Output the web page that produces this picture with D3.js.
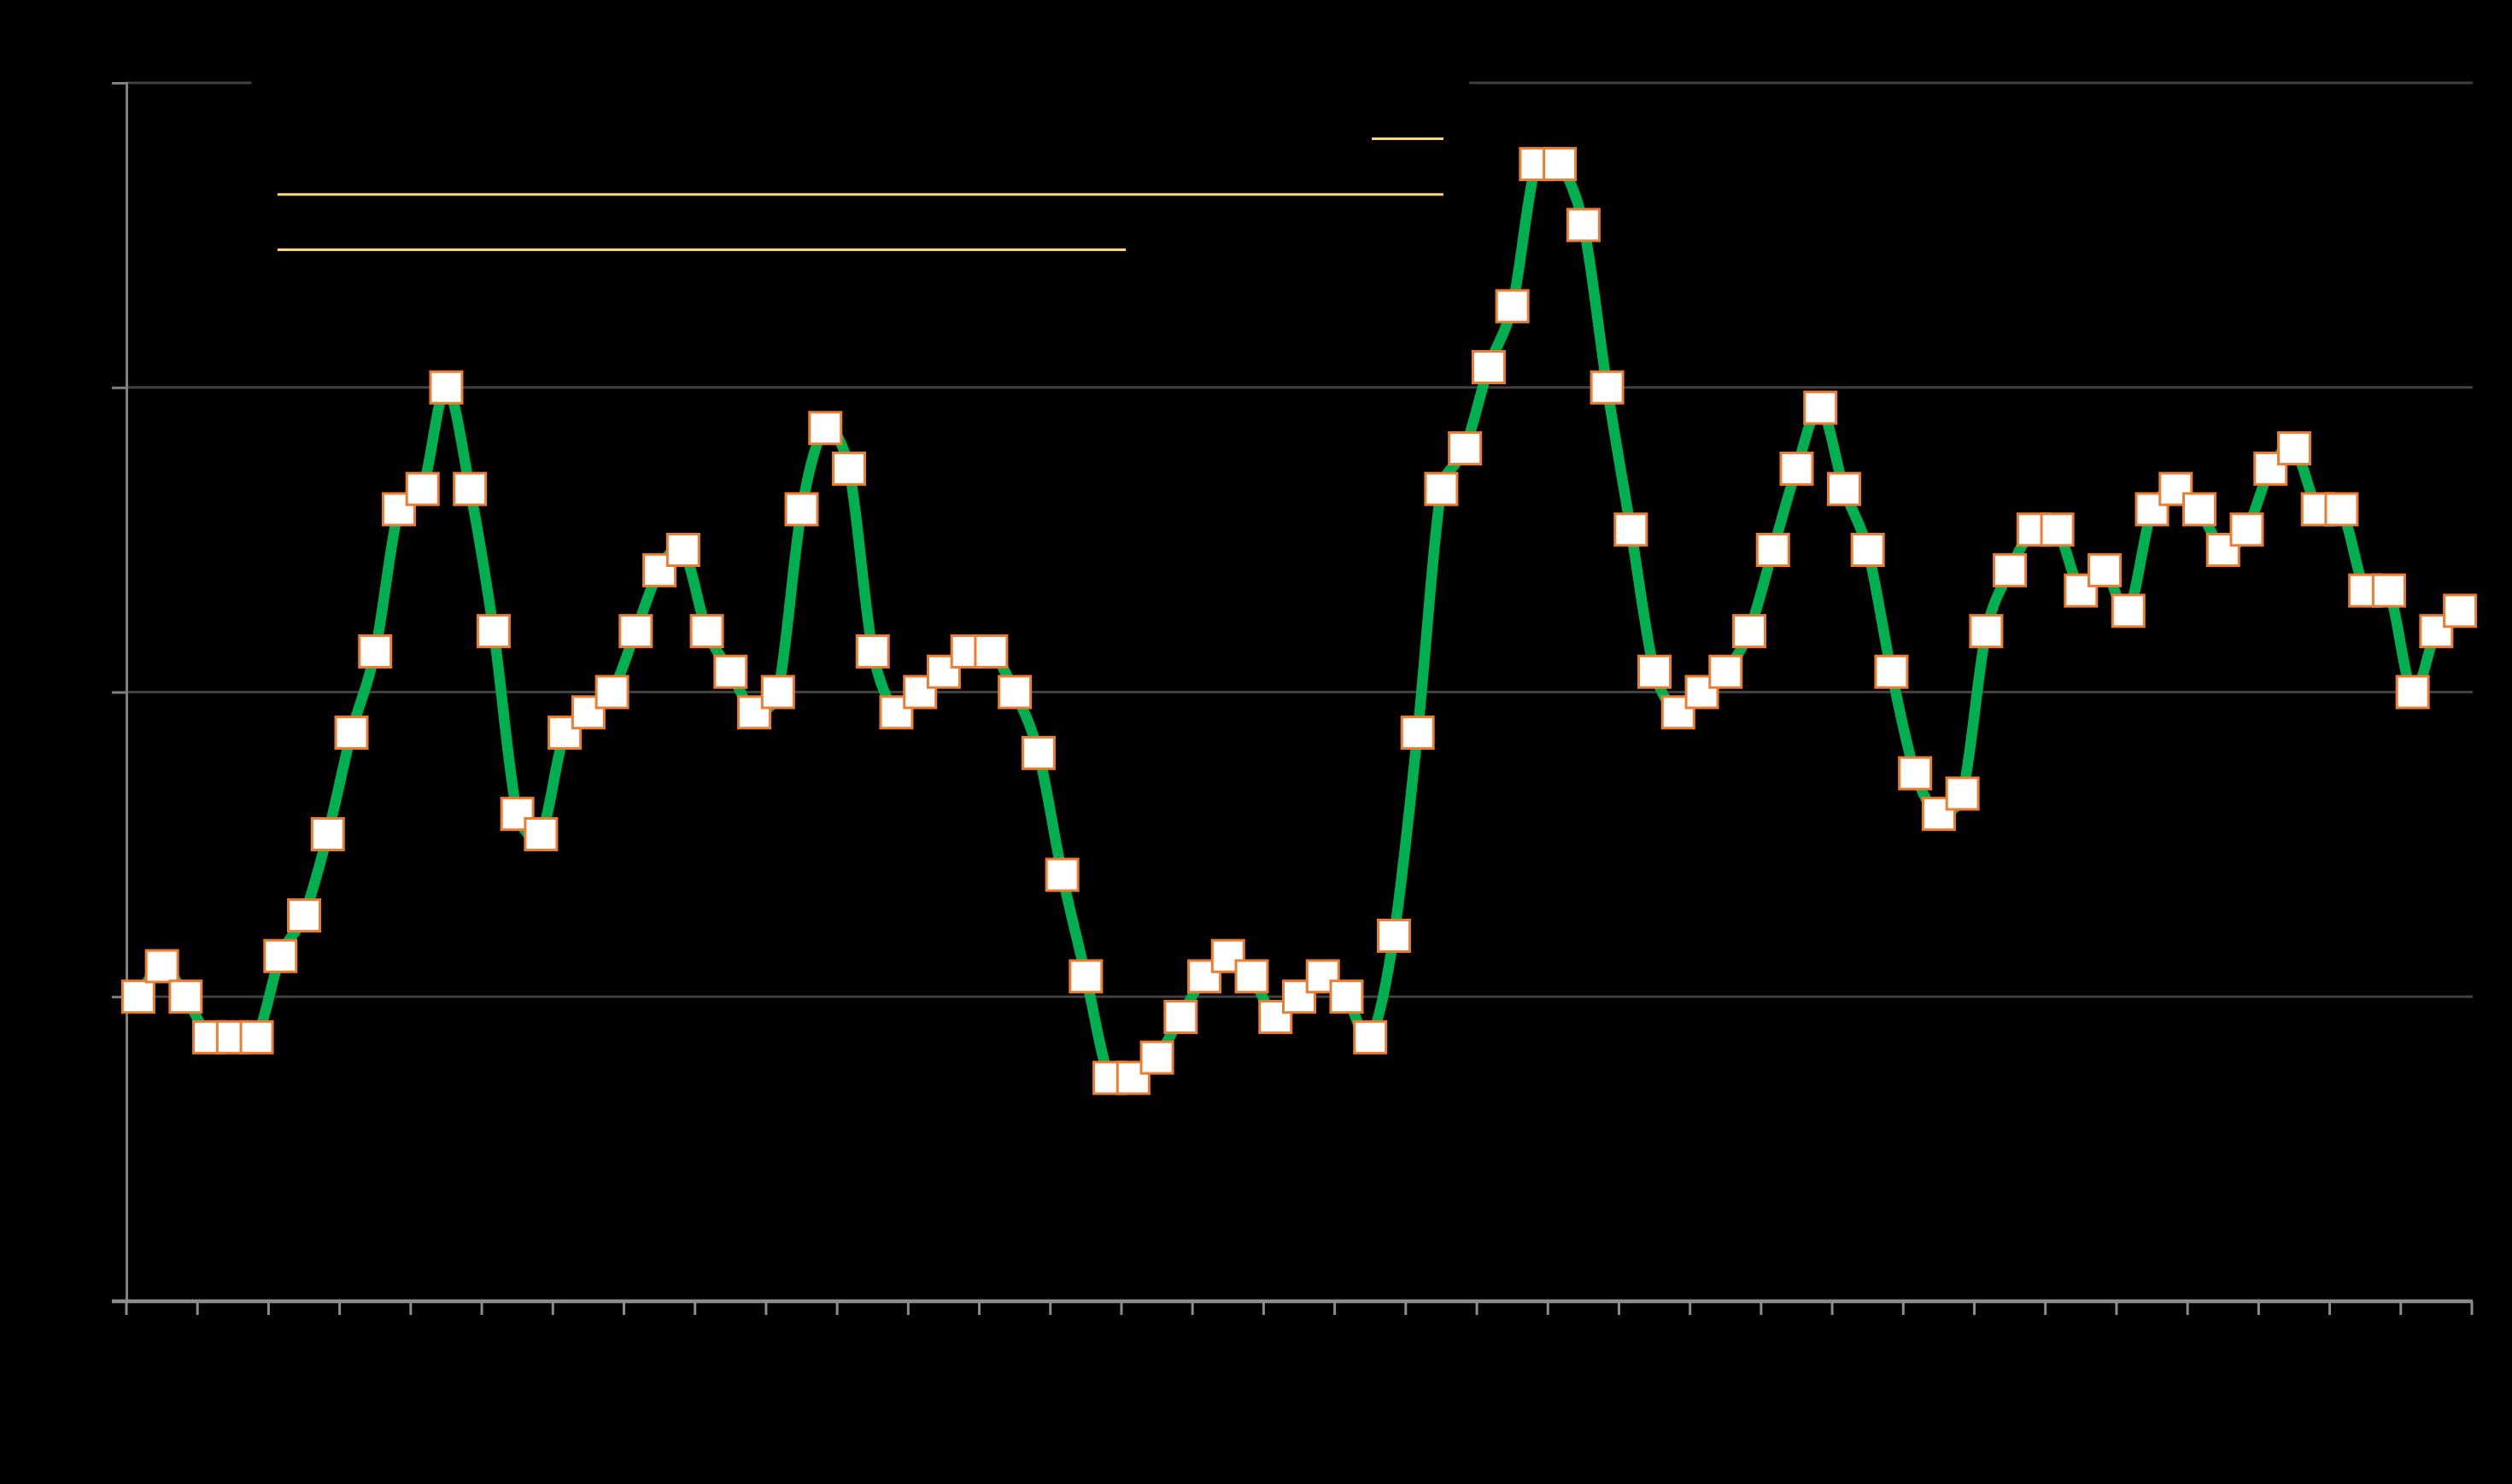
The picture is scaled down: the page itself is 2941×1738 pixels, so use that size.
<!DOCTYPE html>
<html>
<head>
<meta charset="utf-8">
<script src="https://cdn.jsdelivr.net/npm/d3@7"></script>
<style>
  html, body { margin: 0; padding: 0; background: #000; }
  svg { display: block; }
</style>
</head>
<body>
<script>
// ---- data ----
const categories = d3.range(1, 100).map(String);   // 99 periods
const values = [
  3.0, 3.3, 3.0, 2.6, 2.6, 2.6, 3.4, 3.8, 4.6, 5.6,
  6.4, 7.8, 8.0, 9.0, 8.0, 6.6, 4.8, 4.6, 5.6, 5.8,
  6.0, 6.6, 7.2, 7.4, 6.6, 6.2, 5.8, 6.0, 7.8, 8.6,
  8.2, 6.4, 5.8, 6.0, 6.2, 6.4, 6.4, 6.0, 5.4, 4.2,
  3.2, 2.2, 2.2, 2.4, 2.8, 3.2, 3.4, 3.2, 2.8, 3.0,
  3.2, 3.0, 2.6, 3.6, 5.6, 8.0, 8.4, 9.2, 9.8, 11.2,
  11.2, 10.6, 9.0, 7.6, 6.2, 5.8, 6.0, 6.2, 6.6, 7.4,
  8.2, 8.8, 8.0, 7.4, 6.2, 5.2, 4.8, 5.0, 6.6, 7.2,
  7.6, 7.6, 7.0, 7.2, 6.8, 7.8, 8.0, 7.8, 7.4, 7.6,
  8.2, 8.4, 7.8, 7.8, 7.0, 7.0, 6.0, 6.6, 6.8
];
const yTicks = [0, 3, 6, 9, 12];
const tickEvery = 3;

(function () {
// ---- layout ----
const W = 2941, H = 1738;
const pL = 148, pR = 2894, pT = 97, pB = 1524;

const svg = d3.select("body").append("svg")
  .attr("width", W).attr("height", H)
  .style("background", "#000");

const x = d3.scaleBand().domain(categories).range([pL, pR]).padding(0);
const y = d3.scaleLinear().domain([0, 12]).range([pB, pT]);
const cx = d => x(d) + x.bandwidth() / 2;

// gridlines
svg.append("g").selectAll("line")
  .data(yTicks.filter(t => t > 0))
  .join("line")
  .attr("x1", pL).attr("x2", pR + 1)
  .attr("y1", d => y(d)).attr("y2", d => y(d))
  .attr("stroke", "#404040").attr("stroke-width", 3);

// y axis
const yAxis = svg.append("g")
  .attr("transform", `translate(${pL},0)`)
  .call(d3.axisLeft(y).tickValues(yTicks).tickSize(17).tickPadding(8));
yAxis.select(".domain").attr("stroke", "#808080").attr("stroke-width", 3);
yAxis.selectAll(".tick line").attr("stroke", "#808080").attr("stroke-width", 3);
yAxis.selectAll(".tick text").attr("fill", "#000").attr("font-family", "Liberation Sans, Arial, sans-serif").attr("font-size", 32);

// x axis
const tickCats = categories.filter((c, i) => i % tickEvery === 0);
svg.append("line")
  .attr("x1", pL - 17).attr("x2", pR + 1)
  .attr("y1", y(0)).attr("y2", y(0))
  .attr("stroke", "#8c8c8c").attr("stroke-width", 4.5);
const xt = svg.append("g");
xt.selectAll("line.t")
  .data(tickCats)
  .join("line").attr("class", "t")
  .attr("x1", d => x(d)).attr("x2", d => x(d))
  .attr("y1", y(0)).attr("y2", y(0) + 16)
  .attr("stroke", "#8c8c8c").attr("stroke-width", 3);
xt.append("line")
  .attr("x1", pR).attr("x2", pR)
  .attr("y1", y(0)).attr("y2", y(0) + 16)
  .attr("stroke", "#8c8c8c").attr("stroke-width", 3);

// legend / title box (black) covering the top gridline
const boxX0 = pL + (pR - pL) * 0.0533;
const boxX1 = pL + (pR - pL) * 0.5725;
svg.append("rect")
  .attr("x", boxX0).attr("y", 60)
  .attr("width", boxX1 - boxX0).attr("height", 260)
  .attr("fill", "#000");

// underline rules in the box
const ruleX0 = pL + (pR - pL) * 0.0644;
const ruleXEnd = pL + (pR - pL) * 0.5615;
const ruleXMid = pL + (pR - pL) * 0.4261;
const ruleXShort = pL + (pR - pL) * 0.5310;
const rules = [
  { x1: ruleXShort, x2: ruleXEnd, yy: y(11.45) },
  { x1: ruleX0, x2: ruleXEnd, yy: y(10.9) },
  { x1: ruleX0, x2: ruleXMid, yy: y(10.355) }
];
svg.append("g").selectAll("line")
  .data(rules).join("line")
  .attr("x1", d => d.x1).attr("x2", d => d.x2)
  .attr("y1", d => d.yy).attr("y2", d => d.yy)
  .attr("stroke", "#FFD966").attr("stroke-width", 3);

// spreadsheet-style smoothing curve (Bezier with limited tangent length)
function smoothCurve(context) {
  let pts;
  return {
    areaStart() {}, areaEnd() {},
    lineStart() { pts = []; },
    point(px, py) { pts.push([+px, +py]); },
    lineEnd() {
      const n = pts.length;
      if (!n) return;
      context.moveTo(pts[0][0], pts[0][1]);
      const tan = pts.map((p, i) => {
        const a = pts[Math.max(0, i - 1)], b = pts[Math.min(n - 1, i + 1)];
        return [(b[0] - a[0]) / 6, (b[1] - a[1]) / 6];
      });
      for (let i = 0; i < n - 1; i++) {
        const p = pts[i], q = pts[i + 1];
        const L = Math.hypot(q[0] - p[0], q[1] - p[1]);
        const lim = t => {
          const l = Math.hypot(t[0], t[1]), m = L * 0.45;
          return l > m ? [t[0] * m / l, t[1] * m / l] : t;
        };
        const t1 = lim(tan[i]), t2 = lim(tan[i + 1]);
        context.bezierCurveTo(p[0] + t1[0], p[1] + t1[1], q[0] - t2[0], q[1] - t2[1], q[0], q[1]);
      }
    }
  };
}

// series line
const line = d3.line()
  .x((d, i) => cx(categories[i]))
  .y(d => y(d))
  .curve(smoothCurve);
svg.append("path")
  .datum(values)
  .attr("d", line)
  .attr("fill", "none")
  .attr("stroke", "#00B050")
  .attr("stroke-width", 12.5)
  .attr("stroke-linejoin", "round");

// markers
const ms = 37;
svg.append("g").selectAll("rect")
  .data(values)
  .join("rect")
  .attr("x", (d, i) => cx(categories[i]) - ms / 2)
  .attr("y", d => y(d) - ms / 2)
  .attr("width", ms).attr("height", ms)
  .attr("fill", "#FFFFFF")
  .attr("stroke", "#ED7D31")
  .attr("stroke-width", 3);
})();
</script>
</body>
</html>
